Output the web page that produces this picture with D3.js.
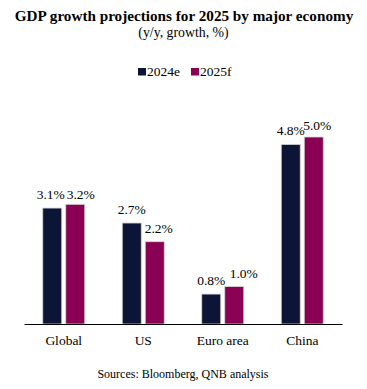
<!DOCTYPE html>
<html><head><meta charset="utf-8">
<script src="https://cdn.jsdelivr.net/npm/d3@7"></script>
<style>
html,body{margin:0;padding:0;background:#fff;}
svg{display:block;}
svg text{font-family:"Liberation Serif","Times New Roman",serif;}
</style></head>
<body><svg id="chart" width="367" height="389"></svg>
<script>
const categories = ["Global", "US", "Euro area", "China"];
const seriesNames = ["2024e", "2025f"];
const values2024e = [3.1, 2.7, 0.8, 4.8];
const values2025f = [3.2, 2.2, 1.0, 5.0];
const colors = ["#0c1535", "#8a0052"];

const svg = d3.select("#chart");
const W = 367, H = 389;
const baseY = 324, left = 24, right = 342;

const seriesValues = [values2024e, values2025f];
const data = categories.map((c, i) => ({
  cat: c,
  vals: seriesNames.map((s, j) => ({cat: c, series: s, si: j, v: seriesValues[j][i]}))
}));

const y = d3.scaleLinear().domain([0, 5.0]).range([baseY, 137]);
const x0 = d3.scaleBand().domain(categories).range([left, right]).padding(0);
const groupW = 42;
const x1 = d3.scaleBand().domain(seriesNames).range([0, groupW]).paddingInner(4 / 23).paddingOuter(0);

// title
svg.append("text").attr("x", W / 2 + 0.5).attr("y", 20.5).attr("text-anchor", "middle")
  .attr("font-weight", "bold").attr("font-size", 15.2).attr("fill", "#000")
  .text("GDP growth projections for 2025 by major economy");
svg.append("text").attr("x", W / 2).attr("y", 36.5).attr("text-anchor", "middle")
  .attr("font-size", 13.8).attr("fill", "#000").text("(y/y, growth, %)");

// legend
const legendPos = [138, 191];
seriesNames.forEach((s, j) => {
  svg.append("rect").attr("x", legendPos[j]).attr("y", 68).attr("width", 8).attr("height", 7.5)
    .attr("fill", colors[j]);
  svg.append("text").attr("x", legendPos[j] + 9).attr("y", 75.5).attr("font-size", 13.5)
    .attr("fill", "#000").text(s);
});

// bars
const groups = svg.append("g").selectAll("g").data(data).join("g")
  .attr("transform", d => `translate(${x0(d.cat) + (x0.bandwidth() - groupW) / 2},0)`);

groups.selectAll("rect").data(d => d.vals).join("rect")
  .attr("x", d => x1(d.series))
  .attr("y", d => y(d.v))
  .attr("width", x1.bandwidth())
  .attr("height", d => baseY - y(d.v))
  .attr("fill", d => colors[d.si])
  .attr("stroke", "#d4d4d4").attr("stroke-width", 0.8);

// value labels (small nudges to mimic label placement)
const nudge = {
  "Global|2024e": [-1.5, 0], "Global|2025f": [5.5, 4],
  "US|2025f": [4, 0], "Euro area|2025f": [9.5, 0],
  "China|2025f": [3.5, 1.5]
};
groups.selectAll("text").data(d => d.vals).join("text")
  .attr("x", d => x1(d.series) + x1.bandwidth() / 2 + (nudge[d.cat + "|" + d.series] || [0, 0])[0])
  .attr("y", d => y(d.v) - 9 + (nudge[d.cat + "|" + d.series] || [0, 0])[1])
  .attr("text-anchor", "middle").attr("font-size", 13.5).attr("fill", "#000")
  .text(d => d.v.toFixed(1) + "%");

// axis
const xAxis = d3.axisBottom(x0).tickSize(0).tickPadding(10);
const ax = svg.append("g").attr("transform", `translate(0,${baseY})`).call(xAxis);
ax.attr("font-family", null);
ax.select(".domain").attr("stroke", "#000").attr("stroke-width", 1.2);
ax.selectAll("text").attr("font-size", 13.5)
  .attr("fill", "#000").attr("dy", null).attr("y", 21);

// source
svg.append("text").attr("x", 183).attr("y", 378).attr("text-anchor", "middle")
  .attr("font-size", 12).attr("fill", "#000").text("Sources: Bloomberg, QNB analysis");
</script></body></html>
